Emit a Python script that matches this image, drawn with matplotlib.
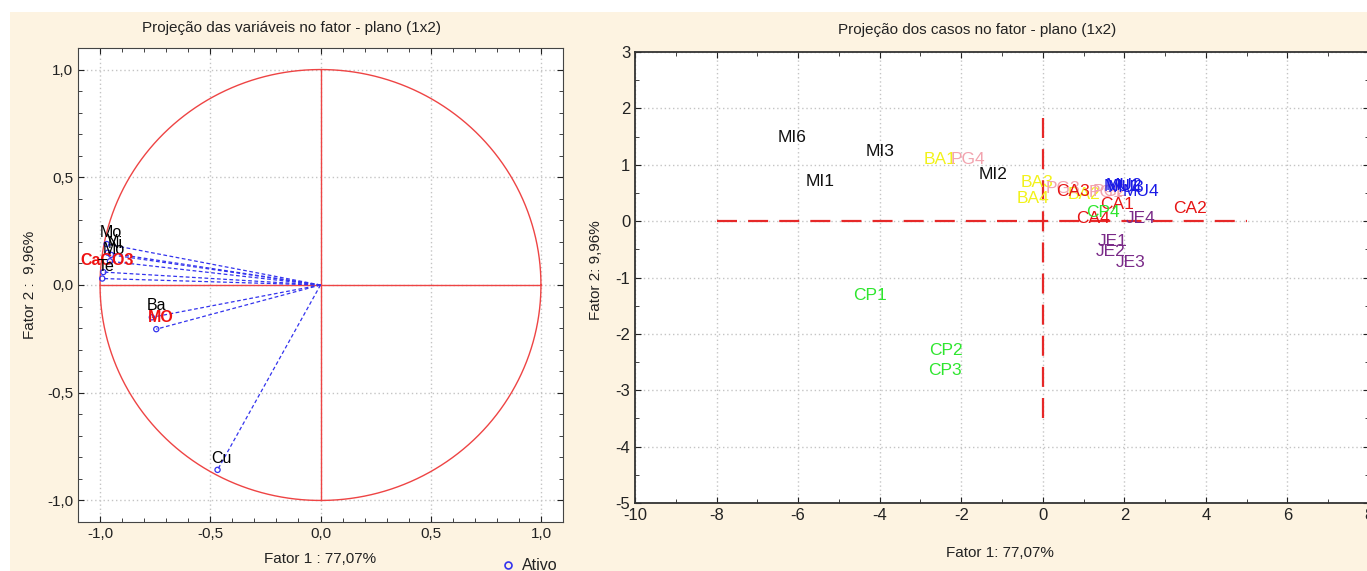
import matplotlib
matplotlib.use("Agg")
import matplotlib.pyplot as plt
import numpy as np
from matplotlib.patches import Rectangle
from matplotlib.ticker import MultipleLocator, FuncFormatter

plt.rcParams['font.family'] = ['Liberation Sans', 'DejaVu Sans']
plt.rcParams['axes.unicode_minus'] = False

# ---- variables (loadings) ----
var_names = ["Mo", "V", "Ni", "Mo", "CaCO3", "Te", "Ba", "MO", "Cu"]
var_x = [-0.97, -0.965, -0.95, -0.955, -0.985, -0.99, -0.765, -0.745, -0.467]
var_y = [0.19, 0.15, 0.14, 0.11, 0.06, 0.03, -0.15, -0.205, -0.858]
var_colors = ["black", "black", "black", "black", "#EE1111", "black", "black", "#EE1111", "black"]
var_bold = [False, False, False, False, True, False, False, True, False]

# ---- cases (scores) ----
case_names = ["MI6", "MI3", "MI1", "MI2",
              "BA1", "BA3", "BA4", "BA2",
              "PG4", "PG3", "PG2", "PG1",
              "MU1", "MU2", "MU3", "MU4",
              "CA3", "CA1", "CA2", "CA4",
              "CP4", "CP1", "CP2", "CP3",
              "JE4", "JE1", "JE2", "JE3"]
case_x = [-6.15, -4.0, -5.47, -1.23,
          -2.52, -0.15, -0.25, 1.0,
          -1.84, 0.49, 1.64, 1.55,
          1.95, 2.0, 2.05, 2.4,
          0.74, 1.81, 3.6, 1.23,
          1.47, -4.24, -2.38, -2.4,
          2.4, 1.72, 1.67, 2.16]
case_y = [1.49, 1.23, 0.71, 0.82,
          1.10, 0.68, 0.41, 0.47,
          1.10, 0.57, 0.53, 0.50,
          0.62, 0.63, 0.6, 0.53,
          0.52, 0.30, 0.23, 0.05,
          0.16, -1.32, -2.29, -2.65,
          0.04, -0.37, -0.53, -0.73]
group_colors = {"MI": "#111111", "BA": "#F2F21A", "PG": "#F2A3AE", "MU": "#1A1AE6",
                "CA": "#E61414", "CP": "#2EE62E", "JE": "#7A2A88"}

W, H = 1367, 571
fig = plt.figure(figsize=(W / 100, H / 100), dpi=100, facecolor="white")
fig.patches.append(Rectangle((10 / W, 0), 1, (H - 12) / H, transform=fig.transFigure,
                             facecolor="#FDF3E1", edgecolor="none", zorder=-10))

comma = FuncFormatter(lambda v, p: ("%.1f" % v).replace(".", ","))

# ---------------- left panel ----------------
ax1 = fig.add_axes([78 / W, (H - 522) / H, 485 / W, 474 / H])
ax1.set_facecolor("white")
ax1.set_xlim(-1.1, 1.1)
ax1.set_ylim(-1.1, 1.1)
ax1.xaxis.set_major_locator(MultipleLocator(0.5))
ax1.yaxis.set_major_locator(MultipleLocator(0.5))
ax1.xaxis.set_minor_locator(MultipleLocator(0.1))
ax1.yaxis.set_minor_locator(MultipleLocator(0.1))
ax1.xaxis.set_major_formatter(comma)
ax1.yaxis.set_major_formatter(comma)
ax1.grid(True, which="major", color="#C4C4C4", linestyle=(0, (1, 2)), linewidth=1)
ax1.tick_params(which="both", direction="in", top=True, right=True, labelsize=11, colors="#222222")
ax1.tick_params(which="major", length=4)
ax1.tick_params(which="minor", length=3)
for s in ax1.spines.values():
    s.set_color("#444444")

t = np.linspace(0, 2 * np.pi, 400)
ax1.plot(np.cos(t), np.sin(t), color="#EE4444", lw=1)
ax1.plot([-1, 1], [0, 0], color="#EE4444", lw=1)
ax1.plot([0, 0], [-1, 1], color="#EE4444", lw=1)
for x, y in zip(var_x, var_y):
    ax1.plot([0, x], [0, y], color="#3333EE", lw=0.9, linestyle=(0, (3, 2)))
ax1.scatter(var_x, var_y, s=14, facecolors="none", edgecolors="#3333EE", linewidths=0.9, zorder=3)
for n, x, y, c, b in zip(var_names, var_x, var_y, var_colors, var_bold):
    ax1.annotate(n, (x, y), xytext=(3, 3), textcoords="offset points", ha="center", va="bottom",
                 color=c, fontsize=11.5, fontweight="bold" if b else "normal", zorder=4)

fig.text(292 / W, 1 - 28 / H, "Projeção das variáveis no fator - plano (1x2)", ha="center", va="center",
         fontsize=11, color="#222222")
fig.text(30 / W, 1 - 285 / H, "Fator 2 :  9,96%", rotation=90, ha="center", va="center",
         fontsize=11, color="#222222")
fig.text(320 / W, 1 - 559 / H, "Fator 1 : 77,07%", ha="center", va="center", fontsize=11, color="#222222")
fig.text(522 / W, 1 - 566 / H, "Ativo", ha="left", va="center", fontsize=11.5, color="#222222")
fig.lines.append(matplotlib.lines.Line2D([508 / W], [1 - 565 / H], transform=fig.transFigure,
                                         marker="o", markersize=5, markerfacecolor="none",
                                         markeredgecolor="#3333EE", markeredgewidth=1.2, linestyle="none"))

# ---------------- right panel ----------------
ax2 = fig.add_axes([635 / W, (H - 503) / H, 734 / W, 451 / H])
ax2.set_facecolor("white")
ax2.set_xlim(-10, 8)
ax2.set_ylim(-5, 3)
ax2.xaxis.set_major_locator(MultipleLocator(2))
ax2.xaxis.set_minor_locator(MultipleLocator(1))
ax2.yaxis.set_major_locator(MultipleLocator(1))
ax2.yaxis.set_minor_locator(MultipleLocator(0.5))
ax2.grid(True, which="major", color="#C4C4C4", linestyle=(0, (1, 2)), linewidth=1)
ax2.tick_params(which="both", direction="in", top=True, right=True, labelsize=12, colors="#222222")
ax2.tick_params(which="major", length=4)
ax2.tick_params(which="minor", length=3)
for s in ax2.spines.values():
    s.set_color("#333333")
    s.set_linewidth(1.3)

ax2.plot([-8, 5], [0, 0], color="#E62828", lw=1.6, linestyle=(0, (9, 5)))
ax2.plot([0, 0], [-3.5, 2], color="#E62828", lw=1.6, linestyle=(0, (9, 5)))
for n, x, y in zip(case_names, case_x, case_y):
    ax2.text(x, y, n, ha="center", va="center", fontsize=12.5, color=group_colors[n[:2]])

fig.text(977 / W, 1 - 30 / H, "Projeção dos casos no fator - plano (1x2)", ha="center", va="center",
         fontsize=11, color="#222222")
fig.text(596 / W, 1 - 270 / H, "Fator 2: 9,96%", rotation=90, ha="center", va="center",
         fontsize=11, color="#222222")
fig.text(1000 / W, 1 - 553 / H, "Fator 1: 77,07%", ha="center", va="center", fontsize=11, color="#222222")

fig.savefig("out.png", dpi=100, facecolor=fig.get_facecolor())
